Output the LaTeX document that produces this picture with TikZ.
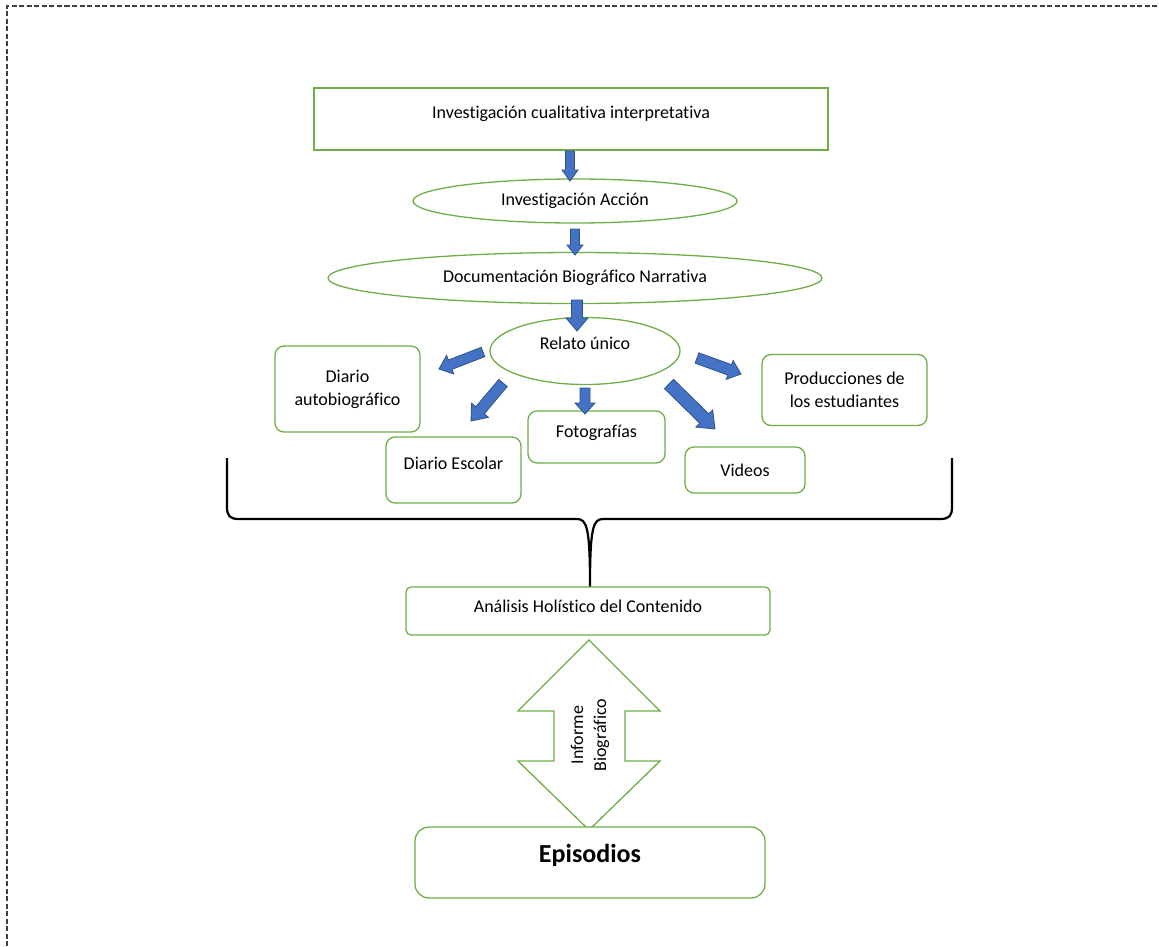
\documentclass[tikz,border=0pt]{standalone}
\usepackage{fontspec}
\setmainfont{Carlito}[Ligatures=NoCommon]
\usetikzlibrary{shapes.geometric}
\definecolor{grn}{HTML}{70AD47}
\definecolor{bfill}{HTML}{4472C4}
\definecolor{bline}{HTML}{2F528F}
\newcommand\myblockarrow[5]{% from, to, shaft half, head half, head length
  \path (#1); \pgfgetlastxy{\mbax}{\mbay}%
  \path (#2); \pgfgetlastxy{\mbbx}{\mbby}%
  \pgfmathsetmacro\mbang{atan2(\mbby-\mbay,\mbbx-\mbax)}%
  \pgfmathsetmacro\mblen{veclen(\mbbx-\mbax,\mbby-\mbay)}%
  \pgfmathsetmacro\mbneck{\mblen-#5}%
  \begin{scope}[shift={(\mbax,\mbay)},rotate=\mbang]
    \filldraw[fill=bfill,draw=bline,line width=0.8pt,line join=miter]
      (0pt,#3pt) -- (\mbneck pt,#3pt) -- (\mbneck pt,#4pt) -- (\mblen pt,0pt)
      -- (\mbneck pt,-#4pt) -- (\mbneck pt,-#3pt) -- (0pt,-#3pt) -- cycle;
  \end{scope}}
\tikzset{
  gbox/.style={draw=grn,line width=1.3pt,fill=white,align=center,inner sep=2pt},
  rbox/.style={gbox,rounded corners=9pt},
  gell/.style={draw=grn,line width=1.3pt,ellipse,inner sep=0pt,align=center},
  txt/.style={font=\fontsize{18}{23}\selectfont},
}
\begin{document}
\begin{tikzpicture}[x=1pt,y=-1pt,txt]
\useasboundingbox (0,0) rectangle (1159,946);
% frame
\draw[black!75,line width=1.3pt,dash pattern=on 5pt off 2.5pt] (7,946) -- (7,6) -- (1159,6);

\node[gbox,minimum width=514,minimum height=62,txt,text depth=14pt] (ici) at (571,119) {Investigación cualitativa interpretativa};
\node[gell,minimum width=324,minimum height=44,txt] (ia) at (575,201) {Investigación Acción};
\node[gell,minimum width=494,minimum height=51,txt] (dbn) at (575,278) {Documentación Biográfico Narrativa};
\node[gell,minimum width=190,minimum height=67,txt,text depth=16pt] (ru) at (585,351) {Relato único};

\node[rbox,minimum width=145,minimum height=86,txt] (da) at (347.5,389) {Diario\\autobiográfico};
\node[rbox,minimum width=135,minimum height=66,txt,text depth=13pt] (de) at (453.5,470) {Diario Escolar};
\node[rbox,minimum width=137,minimum height=52,txt,text depth=11pt] (fo) at (596.5,437) {Fotografías};
\node[rbox,minimum width=120,minimum height=46,txt] (vi) at (745,470) {Videos};
\node[rbox,minimum width=165,minimum height=71,txt] (pe) at (844.5,390) {Producciones de\\los estudiantes};

% block arrows
\coordinate (a1s) at (570,151); \coordinate (a1e) at (570,181);
\coordinate (a2s) at (575,229); \coordinate (a2e) at (575,255);
\coordinate (a3s) at (577,300); \coordinate (a3e) at (577,331);
\coordinate (a4s) at (483,352); \coordinate (a4e) at (439,369);
\coordinate (a5s) at (503,383); \coordinate (a5e) at (471,421);
\coordinate (a6s) at (585,388); \coordinate (a6e) at (585,414);
\coordinate (a7s) at (669,384); \coordinate (a7e) at (715,429);
\coordinate (a8s) at (697,358); \coordinate (a8e) at (741,374);
\myblockarrow{a1s}{a1e}{4.5}{8}{11}
\myblockarrow{a2s}{a2e}{4.5}{8}{10}
\myblockarrow{a3s}{a3e}{5.5}{11}{13}
\myblockarrow{a4s}{a4e}{5}{10}{12}
\myblockarrow{a5s}{a5e}{5.5}{11}{14}
\myblockarrow{a6s}{a6e}{5}{10}{11}
\myblockarrow{a7s}{a7e}{6.5}{12}{15}
\myblockarrow{a8s}{a8e}{5.5}{10}{12}

% brace
\coordinate (bl) at (227,458);
\coordinate (br) at (952,458);
\coordinate (bm) at (590,587);
\draw[black,line width=2.2pt]
  (bl) -- (227,507) .. controls (227,516) and (230,519) .. (239,519)
  -- (577,519) .. controls (587,519) and (590,528) .. (bm)
  .. controls (590,528) and (593,519) .. (603,519)
  -- (940,519) .. controls (949,519) and (952,516) .. (952,507) -- (br);

\node[gbox,rounded corners=5pt,minimum width=364,minimum height=48,txt,text depth=9pt] (ah) at (588,611) {Análisis Holístico del Contenido};

% double arrow
\draw[grn,line width=1.3pt,fill=white,line join=miter]
  (589,640) -- (660,711) -- (625,711) -- (625,761) -- (660,761) -- (589,830)
  -- (518,761) -- (554,761) -- (554,711) -- (518,711) -- cycle;
\node[rotate=90,align=center,txt,inner sep=0pt] (ib) at (590,735) {Informe\\Biográfico};

\node[rbox,rounded corners=14pt,minimum width=350,minimum height=71,text depth=18pt] (ep) at (590,862.5) {\fontsize{26}{30}\selectfont\bfseries Episodios};
\end{tikzpicture}
\end{document}
